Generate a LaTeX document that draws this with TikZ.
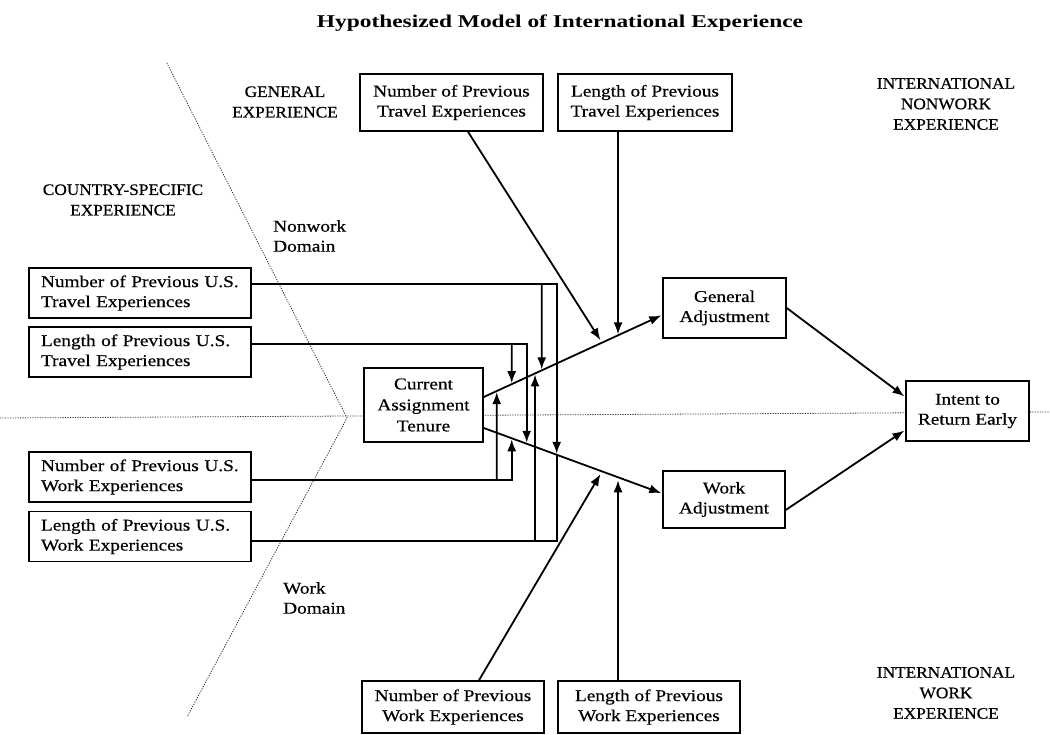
\documentclass[tikz,border=0pt]{standalone}
\usepackage{fontspec}
\setmainfont{Liberation Serif}[FakeStretch=1.17, FakeBold=0.5]
\newfontfamily\capsfont{Liberation Serif}[FakeStretch=1.08, FakeBold=0.5]
\newfontfamily\titlefont{Liberation Serif}[FakeStretch=1.3]
\usetikzlibrary{arrows.meta,calc}

\begin{document}
\begin{tikzpicture}[x=1pt,y=-1pt,
  box/.style={draw, line width=1.5pt, fill=white, align=center, inner sep=0pt,
    font=\fontsize{16.5}{20}\selectfont},
  lbox/.style={box, align=left, text width=198pt, inner xsep=12pt, minimum height=50pt},
  caps/.style={font=\capsfont\fontsize{16}{20.5}\selectfont, align=center, inner sep=0pt},
  lab/.style={font=\fontsize{16.5}{20}\selectfont, align=left, inner sep=0pt},
  arr/.style={line width=1.8pt, -{Latex[length=12pt,width=9pt]}, shorten >=1pt},
  wire/.style={line width=1.8pt},
  divider/.style={line width=0.8pt, black!80, dash pattern=on 1.2pt off 1.3pt}]

\useasboundingbox (0,0) rectangle (1050,735);

% domain dividers
\coordinate (dTop) at (166.7,62.7);
\coordinate (dV) at (347,418);
\coordinate (dBot) at (187,717);
\coordinate (dL) at (0,418);
\coordinate (dR) at (1050,412);
\draw[divider] (dTop) -- (dV) -- (dBot);
\draw[divider] (dL) -- (dR);

% title and region labels
\node[font=\titlefont\bfseries\fontsize{18}{22}\selectfont, anchor=base] (title) at (560,28)
  {Hypothesized Model of International Experience};
\node[caps] (genexp) at (285,102) {GENERAL\\EXPERIENCE};
\node[caps] (csexp) at (123,200) {COUNTRY-SPECIFIC\\EXPERIENCE};
\node[lab, anchor=west] (nwdom) at (273,236) {Nonwork\\Domain};
\node[lab, anchor=west] (wdom) at (283,598) {Work\\Domain};
\node[caps] (intnw) at (946,104) {INTERNATIONAL\\NONWORK\\EXPERIENCE};
\node[caps] (intw) at (946,693) {INTERNATIONAL\\WORK\\EXPERIENCE};

% boxes
\node[box, minimum width=183, minimum height=57] (ntr) at (451.5,102.5) {Number of Previous\\Travel Experiences};
\node[box, minimum width=174, minimum height=57] (ltr) at (645,102.5) {Length of Previous\\Travel Experiences};
\node[box, minimum width=182, minimum height=52] (nwk) at (453,707) {Number of Previous\\Work Experiences};
\node[box, minimum width=182, minimum height=52] (lwk) at (649,707) {Length of Previous\\Work Experiences};

\node[lbox] (nust) at (140,293) {Number of Previous U.S.\\Travel Experiences};
\node[lbox] (lust) at (140,352) {Length of Previous U.S.\\Travel Experiences};
\node[lbox] (nusw) at (140,477) {Number of Previous U.S.\\Work Experiences};
\node[lbox] (lusw) at (140,536.5) {Length of Previous U.S.\\Work Experiences};

\node[box, minimum width=119, minimum height=74, font=\fontsize{16.5}{21}\selectfont] (cur) at (423.5,405) {Current\\Assignment\\Tenure};
\node[box, minimum width=123, minimum height=60] (gen) at (724.5,308) {General\\Adjustment};
\node[box, minimum width=122, minimum height=57] (wrk) at (724,499.5) {Work\\Adjustment};
\node[box, minimum width=123, minimum height=60] (int) at (967.5,411) {Intent to\\Return Early};

% main paths
\coordinate (u1) at ($(cur.east)+(0,-8)$);
\coordinate (u2) at ($(gen.west)+(0,7)$);
\coordinate (l1) at ($(cur.east)+(0,23)$);
\coordinate (l2) at ($(wrk.west)+(0,-6)$);
\draw[arr] (u1) -- (u2);
\draw[arr] (l1) -- (l2);
\draw[arr] (gen.east) -- ($(int.west)+(0,-14)$);
\draw[arr] ($(wrk.east)+(0,10.5)$) -- ($(int.west)+(0,19)$);

% columns of the moderator wiring
\foreach \n/\x in {a/496.7, b/511.7, c/526.7, d/535, e/541.7, f/556.7, g/602, h/618}{
  \coordinate (x\n T) at (\x,0);
  \coordinate (x\n B) at (\x,700);
}
\foreach \n in {a,b,d,e,g,h}{
  \coordinate (pU\n) at (intersection of u1--u2 and x\n T--x\n B);
}
\foreach \n in {b,c,f,g,h}{
  \coordinate (pL\n) at (intersection of l1--l2 and x\n T--x\n B);
}

% U.S. experience moderators
\coordinate (h1) at ($(nust.east)+(0,-9)$);
\coordinate (h2) at ($(lust.east)+(0,-8)$);
\coordinate (h3) at ($(nusw.east)+(0,3)$);
\coordinate (h4) at ($(lusw.east)+(0,4.5)$);
\draw[arr] (h1) -| (pLf);
\draw[arr] (xeT |- h1) -- (pUe);
\draw[arr] (h2) -| (pLc);
\draw[arr] (xbT |- h2) -- (pUb);
\draw[arr] (h3) -| (pLb);
\draw[arr] (xaT |- h3) -- (pUa);
\draw[wire] (h4) -| (pLf);
\draw[arr] (xdT |- h4) -- (pUd);

% international experience moderators
\draw[arr, shorten >=3pt] ([xshift=16.5pt]ntr.south) -- (pUg);
\draw[arr] (ltr.south -| xhT) -- (pUh);
\draw[arr, shorten >=3pt] ([xshift=26pt]nwk.north) -- (pLg);
\draw[arr, shorten >=3pt] (lwk.north -| xhT) -- (pLh);
\end{tikzpicture}
\end{document}
